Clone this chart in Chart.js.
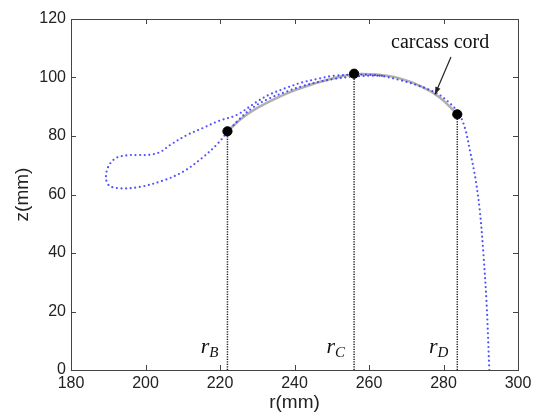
<!DOCTYPE html>
<html>
<head>
<meta charset="utf-8">
<script src="https://cdn.jsdelivr.net/npm/chart.js@4.4.1/dist/chart.umd.min.js"></script>
<style>
  html, body { margin: 0; padding: 0; background: #fff; }
  #wrap { width: 539px; height: 415px; }
</style>
</head>
<body>
<div id="wrap"><canvas id="tireChart"></canvas></div>
<script>
// tick labels
const xTicks = [180, 200, 220, 240, 260, 280, 300];
const yTicks = [0, 20, 40, 60, 80, 100, 120];

// blue dotted profile, traced from the bead end upward (r, z in mm)
const profileR = [292.3, 291.6, 290.7, 289.7, 288.5, 287.1, 285.8, 284.2, 281.7, 278.2, 272.8, 268.3, 263.0, 257.0,
    250.0, 246.8, 242.0, 237.9, 233.0, 229.9, 224.5, 220.0, 215.5, 211.1, 206.6, 203.9, 201.2, 198.0, 195.0, 192.0,
    190.0, 189.4, 190.3, 193.2, 198.5, 204.8, 210.1, 215.0, 219.1, 222.0, 225.0, 228.9, 233.0, 237.9, 242.0, 246.8,
    251.0, 255.8, 260.0, 264.0];
const profileZ = [0, 22, 40, 55, 66, 75, 82.5, 87.5, 91.2, 94.6, 97.4, 99.1, 100.6, 101.0,
    100.5, 99.7, 98.3, 96.5, 94.0, 91.7, 87.2, 85.3, 82.8, 80.3, 76.9, 74.5, 73.6, 73.5, 73.4, 72.4,
    69.5, 65.5, 63.0, 62.1, 62.6, 64.8, 67.8, 72.3, 77.0, 81.3, 85.5, 89.8, 92.7, 95.2, 97.0, 98.6,
    99.6, 100.3, 100.6, 100.6];

// carcass cord (grey solid) between B and D
const cordR = [222.0, 226.0, 230.0, 235.0, 240.0, 245.0, 250.0, 256.0, 262.0, 268.0, 274.0, 279.0, 283.7];
const cordZ = [81.6, 86.2, 89.6, 92.9, 95.6, 97.8, 99.6, 101.1, 101.0, 99.8, 97.0, 93.2, 87.4];

// marked points B, C, D
const keyNames = ['B', 'C', 'D'];
const keyR = [222.0, 256.0, 283.7];
const keyZ = [81.6, 101.3, 87.4];

const toXY = (xs, ys) => xs.map((x, i) => ({ x: x, y: ys[i] }));

const datasets = [
    {
        data: toXY(cordR, cordZ),
        showLine: true,
        borderColor: 'rgba(150,150,150,0.75)',
        borderWidth: 2.5,
        pointRadius: 0,
        tension: 0.4,
        order: 3
    },
    {
        data: toXY(profileR, profileZ),
        showLine: true,
        borderColor: 'rgba(50,50,255,0.85)',
        borderWidth: 2.2,
        borderDash: [0, 4.6],
        borderCapStyle: 'round',
        pointRadius: 0,
        tension: 0.35,
        order: 2
    }
];

keyR.forEach((r, i) => {
    datasets.push({
        data: [{ x: r, y: 0 }, { x: r, y: keyZ[i] }],
        showLine: true,
        borderColor: '#222',
        borderWidth: 1.5,
        borderDash: [1.3, 1.2],
        pointRadius: 0,
        order: 1
    });
});

datasets.push({
    data: toXY(keyR, keyZ),
    showLine: false,
    pointRadius: 4.6,
    pointBackgroundColor: '#000',
    pointBorderColor: '#000',
    order: 0
});

// frame with inward ticks, labels and the arrow note
const decor = {
    id: 'decor',
    afterDraw(chart) {
        const ctx = chart.ctx;
        const a = chart.chartArea;
        const xs = chart.scales.x, ys = chart.scales.y;
        ctx.save();
        ctx.strokeStyle = '#444';
        ctx.lineWidth = 1;
        ctx.strokeRect(a.left + 0.5, a.top + 0.5, a.right - a.left, a.bottom - a.top);
        ctx.beginPath();
        xTicks.forEach(v => {
            const px = Math.round(xs.getPixelForValue(v)) + 0.5;
            ctx.moveTo(px, a.bottom); ctx.lineTo(px, a.bottom - 5);
            ctx.moveTo(px, a.top); ctx.lineTo(px, a.top + 5);
        });
        yTicks.forEach(v => {
            const py = Math.round(ys.getPixelForValue(v)) + 0.5;
            ctx.moveTo(a.left, py); ctx.lineTo(a.left + 5, py);
            ctx.moveTo(a.right, py); ctx.lineTo(a.right - 5, py);
        });
        ctx.stroke();

        // r_B, r_C, r_D
        ctx.fillStyle = '#111';
        ctx.textBaseline = 'alphabetic';
        keyR.forEach((r, i) => {
            const px = xs.getPixelForValue(r);
            const py = ys.getPixelForValue(5.8);
            ctx.font = 'italic 15px "Liberation Serif", "DejaVu Serif", serif';
            const sw = ctx.measureText(keyNames[i]).width;
            ctx.textAlign = 'right';
            ctx.fillText(keyNames[i], px - 9, py + 4);
            ctx.font = 'italic 22px "Liberation Serif", "DejaVu Serif", serif';
            ctx.fillText('r', px - 9 - sw, py);
        });

        // note + arrow
        ctx.font = '20px "Liberation Serif", "Times New Roman", serif';
        ctx.textAlign = 'center';
        ctx.textBaseline = 'middle';
        ctx.fillText('carcass cord', xs.getPixelForValue(279.1), ys.getPixelForValue(111.8));
        const x1 = xs.getPixelForValue(282.0), y1 = ys.getPixelForValue(107.0);
        const x2 = xs.getPixelForValue(277.7), y2 = ys.getPixelForValue(94.2);
        ctx.strokeStyle = '#222';
        ctx.lineWidth = 1.2;
        ctx.beginPath();
        ctx.moveTo(x1, y1); ctx.lineTo(x2, y2);
        ctx.stroke();
        const ang = Math.atan2(y2 - y1, x2 - x1);
        ctx.beginPath();
        ctx.moveTo(x2, y2);
        ctx.lineTo(x2 - 8 * Math.cos(ang - 0.35), y2 - 8 * Math.sin(ang - 0.35));
        ctx.lineTo(x2 - 8 * Math.cos(ang + 0.35), y2 - 8 * Math.sin(ang + 0.35));
        ctx.closePath();
        ctx.fillStyle = '#222';
        ctx.fill();
        ctx.restore();
    }
};

const tickFont = { family: '"Liberation Sans", Arial, sans-serif', size: 16 };
const titleFont = { family: '"Liberation Sans", Arial, sans-serif', size: 19 };

new Chart(document.getElementById('tireChart'), {
    type: 'scatter',
    data: { datasets: datasets },
    options: {
        responsive: true,
        maintainAspectRatio: false,
        animation: false,
        layout: { padding: { top: 19, right: 21, left: 0, bottom: 0 } },
        plugins: {
            legend: { display: false },
            tooltip: { enabled: false }
        },
        scales: {
            x: {
                type: 'linear',
                min: 180,
                max: 300,
                afterBuildTicks: s => { s.ticks = xTicks.map(v => ({ value: v })); },
                afterFit: s => { s.height = 45; },
                grid: { display: false, drawTicks: false },
                border: { display: false },
                ticks: { font: tickFont, color: '#222', padding: 4, maxRotation: 0 },
                title: {
                    display: true,
                    text: 'r(mm)',
                    font: titleFont,
                    color: '#222',
                    padding: { top: 0, bottom: 1 }
                }
            },
            y: {
                type: 'linear',
                min: 0,
                max: 120,
                afterBuildTicks: s => { s.ticks = yTicks.map(v => ({ value: v })); },
                afterFit: s => { s.width = 71; },
                grid: { display: false, drawTicks: false },
                border: { display: false },
                ticks: { font: tickFont, color: '#222', padding: 5 },
                title: {
                    display: true,
                    text: 'z(mm)',
                    font: titleFont,
                    color: '#222',
                    padding: { top: 11, bottom: 0 }
                }
            }
        }
    },
    plugins: [decor]
});
</script>
</body>
</html>
